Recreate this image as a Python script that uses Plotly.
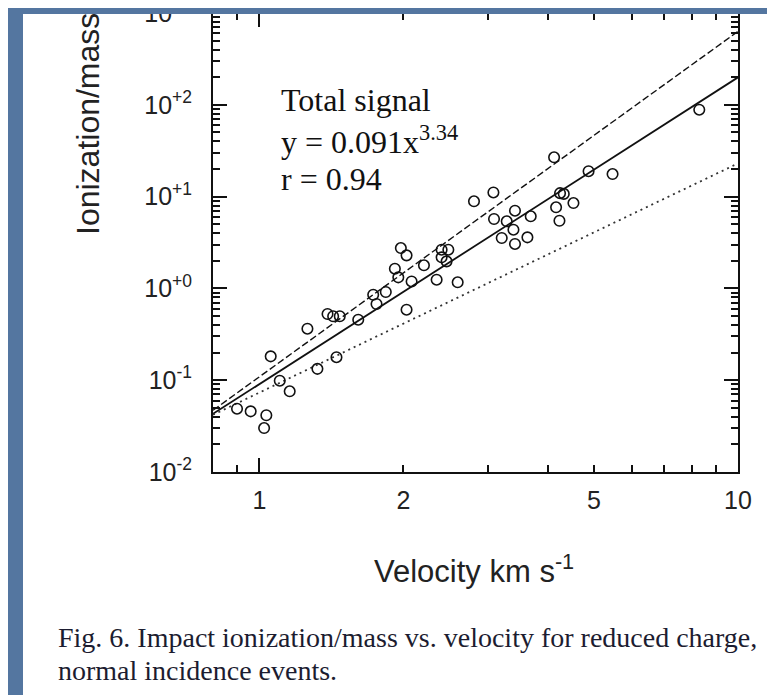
import plotly.graph_objects as go

# ---- data ----
velocity = [0.898, 0.959, 1.034, 1.023, 1.056, 1.103, 1.157, 1.260, 1.322, 1.449,
            1.388, 1.426, 1.472, 1.609, 1.729, 1.837, 1.757, 2.030, 1.975, 2.030,
            1.919, 1.951, 2.080, 2.207, 2.346, 2.403, 2.482, 2.403, 2.461, 2.596,
            2.808, 3.083, 3.092, 3.287, 3.209, 3.420, 3.395, 3.420, 3.689, 3.631,
            4.168, 4.236, 4.248, 4.325, 4.531, 4.128, 4.873, 5.469, 8.30]
ionization = [0.0489, 0.0458, 0.0415, 0.0301, 0.182, 0.0988, 0.0757, 0.364, 0.133, 0.178,
              0.526, 0.497, 0.497, 0.456, 0.853, 0.914, 0.676, 0.586, 2.75, 2.29,
              1.64, 1.32, 1.19, 1.785, 1.244, 2.64, 2.64, 2.18, 1.97, 1.166,
              8.89, 11.1, 5.70, 5.38, 3.54, 3.05, 4.36, 7.02, 6.10, 3.60,
              7.65, 5.46, 10.9, 10.7, 8.51, 26.8, 18.9, 17.6, 88.4]

fit_x = [0.8, 10]
fit_total_y = [0.043, 199]     # y = 0.091 x^3.34 (solid)
fit_upper_y = [0.047, 630]     # dashed
fit_lower_y = [0.042, 23]      # dotted

x_major = [1, 10]
x_labeled = [1, 2, 5, 10]
x_labels = ["1", "2", "5", "10"]
x_minor = [0.9, 3, 4, 6, 7, 8, 9]
y_major = [0.01, 0.1, 1, 10, 100, 1000]
y_labels = ["10<sup>-2</sup>", "10<sup>-1</sup>", "10<sup>+0</sup>",
            "10<sup>+1</sup>", "10<sup>+2</sup>", "10<sup>+3</sup>"]
y_minor = [m * d for d in [0.01, 0.1, 1, 10, 100] for m in range(2, 10)]

x_title = "Velocity km s<sup>-1</sup>"
y_title = "Ionization/mass"
caption1 = "Fig. 6. Impact ionization/mass vs. velocity for reduced charge,"
caption2 = "normal incidence events."
note_lines = ["Total signal", "y = 0.091x<sup>3.34</sup>", "r = 0.94"]

# ---- figure ----
L, R, T, B = 205, 45, 5, 231
W, H = 775, 695
pw, ph = W - L - R, H - T - B


def xp(px):
    return (px - L) / pw


def yp(py):
    return (H - B - py) / ph


sans = "Liberation Sans, Arial, Helvetica, sans-serif"
serif = "Liberation Serif, Times New Roman, serif"

fig = go.Figure()
fig.add_trace(go.Scatter(x=fit_x, y=fit_upper_y, mode="lines",
                         line=dict(color="#111", width=1.4, dash="7px,3px"),
                         showlegend=False))
fig.add_trace(go.Scatter(x=fit_x, y=fit_total_y, mode="lines",
                         line=dict(color="#111", width=1.8),
                         showlegend=False))
fig.add_trace(go.Scatter(x=fit_x, y=fit_lower_y, mode="lines",
                         line=dict(color="#333", width=1.8, dash="2px,4px"),
                         showlegend=False))
fig.add_trace(go.Scatter(x=velocity, y=ionization, mode="markers",
                         marker=dict(symbol="circle-open", size=10.5,
                                     color="#111", line=dict(width=1.6, color="#111")),
                         showlegend=False))
# invisible trace to hold the overlay axis (long major x ticks)
fig.add_trace(go.Scatter(x=fit_x, y=fit_total_y, mode="lines", xaxis="x2",
                         line=dict(width=0), hoverinfo="skip", showlegend=False,
                         opacity=0))

xrange = [-0.09691, 1.0]
fig.update_layout(
    width=W, height=H, autosize=False,
    margin=dict(l=L, r=R, t=T, b=B, pad=0, autoexpand=False),
    paper_bgcolor="white", plot_bgcolor="white",
    xaxis=dict(type="log", range=xrange, showgrid=False, zeroline=False,
               automargin=False,
               showline=True, linecolor="#111", linewidth=2, mirror="ticks",
               ticks="inside", ticklen=7, tickwidth=1.5, tickcolor="#111",
               tickvals=x_labeled, ticktext=x_labels,
               tickfont=dict(family=sans, size=25, color="#222"),
               ticklabelstandoff=5,
               minor=dict(tickmode="array", tickvals=x_minor, ticks="inside",
                          ticklen=7, tickwidth=1.5, tickcolor="#111", showgrid=False)),
    xaxis2=dict(type="log", range=xrange, overlaying="x", anchor="y", side="bottom",
                automargin=False,
                showgrid=False, zeroline=False, showline=False, mirror="ticks",
                ticks="inside", ticklen=14, tickwidth=1.5, tickcolor="#111",
                tickvals=x_major, showticklabels=False),
    yaxis=dict(type="log", range=[-2, 3], showgrid=False, zeroline=False,
               automargin=False,
               showline=True, linecolor="#111", linewidth=2, mirror="ticks",
               ticks="inside", ticklen=14, tickwidth=1.5, tickcolor="#111",
               tickvals=y_major, ticktext=y_labels,
               tickfont=dict(family=sans, size=25, color="#222"),
               ticklabelstandoff=14, ticklabeloverflow="allow",
               minor=dict(tickmode="array", tickvals=y_minor, ticks="inside",
                          ticklen=7, tickwidth=1.5, tickcolor="#111", showgrid=False)),
)

ann = []
for text, py in zip(note_lines, [92, 132, 171]):
    ann.append(dict(text=text, x=xp(271), y=yp(py), xref="paper", yref="paper",
                    xanchor="left", yanchor="middle", showarrow=False,
                    font=dict(family=serif, size=32, color="#111")))
ann.append(dict(text=y_title, textangle=-90, x=xp(80), y=yp(229),
                xref="paper", yref="paper", xanchor="center", yanchor="bottom",
                showarrow=False, font=dict(family=sans, size=32, color="#222")))
ann.append(dict(text=x_title, x=xp(466), y=yp(561), xref="paper", yref="paper",
                xanchor="center", yanchor="middle", showarrow=False,
                font=dict(family=sans, size=31, color="#222")))
ann.append(dict(text=caption1, x=xp(48), y=yp(629), xref="paper", yref="paper",
                xanchor="left", yanchor="middle", showarrow=False,
                font=dict(family=serif, size=28, color="#1c1c30")))
ann.append(dict(text=caption2, x=xp(48), y=yp(662), xref="paper", yref="paper",
                xanchor="left", yanchor="middle", showarrow=False,
                font=dict(family=serif, size=28, color="#1c1c30")))
fig.update_layout(annotations=ann)

blue = "#5476a0"
fig.update_layout(shapes=[
    dict(type="rect", xref="paper", yref="paper", x0=xp(-60), x1=xp(15),
         y0=yp(760), y1=yp(-60), fillcolor=blue, line=dict(width=0), layer="above"),
    dict(type="rect", xref="paper", yref="paper", x0=xp(-60), x1=xp(840),
         y0=yp(6), y1=yp(-60), fillcolor=blue, line=dict(width=0), layer="above"),
])

fig.write_html("out.html")
